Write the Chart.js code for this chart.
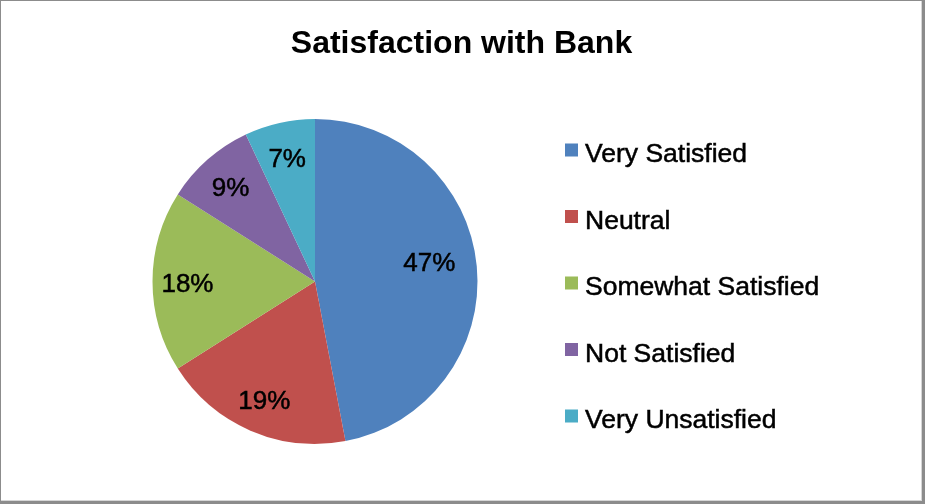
<!DOCTYPE html>
<html>
<head>
<meta charset="utf-8">
<title>Satisfaction with Bank</title>
<script src="https://cdn.jsdelivr.net/npm/chart.js@4.4.1/dist/chart.umd.min.js"></script>
<style>
    html, body { margin: 0; padding: 0; background: #fff; }
    #wrap { width: 925px; height: 504px; position: relative; }
</style>
</head>
<body>
<div id="wrap"><canvas id="chart" width="925" height="504"></canvas></div>
<script>
const chartTitle = 'Satisfaction with Bank';
const categories = ['Very Satisfied', 'Neutral', 'Somewhat Satisfied', 'Not Satisfied', 'Very Unsatisfied'];
const shares = [47, 19, 18, 9, 7];
const sliceColors = ['#4F81BD', '#C0504D', '#9BBB59', '#8064A2', '#4BACC6'];

const FONT = '"Liberation Sans", Arial, Helvetica, sans-serif';

// slightly heavier text, like the Mac renderer
function heavyText(ctx, text, x, y) {
    ctx.lineWidth = 0.5;
    ctx.strokeStyle = ctx.fillStyle;
    ctx.strokeText(text, x, y);
    ctx.fillText(text, x, y);
}

// frame, title, slice labels and the legend column are drawn by hand
const decorations = {
    id: 'decorations',
    beforeDraw(chart) {
        const { ctx, width, height } = chart;
        ctx.save();
        ctx.fillStyle = '#ffffff';
        ctx.fillRect(0, 0, width, height);
        ctx.fillStyle = '#8c8c8c';
        ctx.fillRect(0, 0, width - 3, 1);
        ctx.fillRect(0, 0, 1, height - 3);
        ctx.fillRect(width - 3, 0, 3, height);
        ctx.fillRect(0, height - 3, width, 3);
        ctx.fillStyle = '#d6d6d6';
        ctx.fillRect(width - 4, 1, 1, height - 4);
        ctx.fillRect(1, height - 4, width - 4, 1);
        ctx.restore();
    },
    afterDraw(chart) {
        const { ctx, width } = chart;
        const ds = chart.data.datasets[0];
        const total = ds.data.reduce((a, b) => a + b, 0);
        ctx.save();

        // title
        ctx.fillStyle = '#000';
        ctx.textAlign = 'center';
        ctx.textBaseline = 'alphabetic';
        ctx.font = 'bold 32px ' + FONT;
        ctx.fillText(chartTitle, width / 2 - 1, 53);

        // percentage labels inside the slices
        ctx.font = '26px ' + FONT;
        chart.getDatasetMeta(0).data.forEach((arc, i) => {
            const p = arc.getProps(['x', 'y', 'startAngle', 'endAngle', 'outerRadius'], true);
            const span = p.endAngle - p.startAngle;
            // big slices pull the label inwards and a little up
            const big = Math.max(0, span - Math.PI / 2) / (Math.PI / 2);
            const mid = (p.startAngle + p.endAngle) / 2 - big * 0.09;
            const f = 0.785 - 0.08 * big;
            const lx = p.x + Math.cos(mid) * p.outerRadius * f;
            const ly = p.y + Math.sin(mid) * p.outerRadius * f;
            const pct = Math.round(ds.data[i] / total * 100) + '%';
            heavyText(ctx, pct, lx, ly + 10);
        });

        // legend
        ctx.textAlign = 'left';
        ctx.font = '26.5px ' + FONT;
        chart.data.labels.forEach((label, i) => {
            const cy = 150 + i * 66.5;
            ctx.fillStyle = ds.backgroundColor[i];
            ctx.fillRect(565, cy - 6.5, 13, 13);
            ctx.fillStyle = '#000';
            heavyText(ctx, label, 585, cy + 12);
        });
        ctx.restore();
    }
};

new Chart(document.getElementById('chart'), {
    type: 'pie',
    data: {
        labels: categories,
        datasets: [{
            data: shares,
            backgroundColor: sliceColors,
            borderWidth: 0
        }]
    },
    options: {
        responsive: false,
        animation: false,
        layout: {
            padding: { left: 152.5, top: 119, right: 447.5, bottom: 60 }
        },
        plugins: {
            legend: { display: false },
            title: { display: false },
            tooltip: { enabled: false }
        }
    },
    plugins: [decorations]
});
</script>
</body>
</html>
